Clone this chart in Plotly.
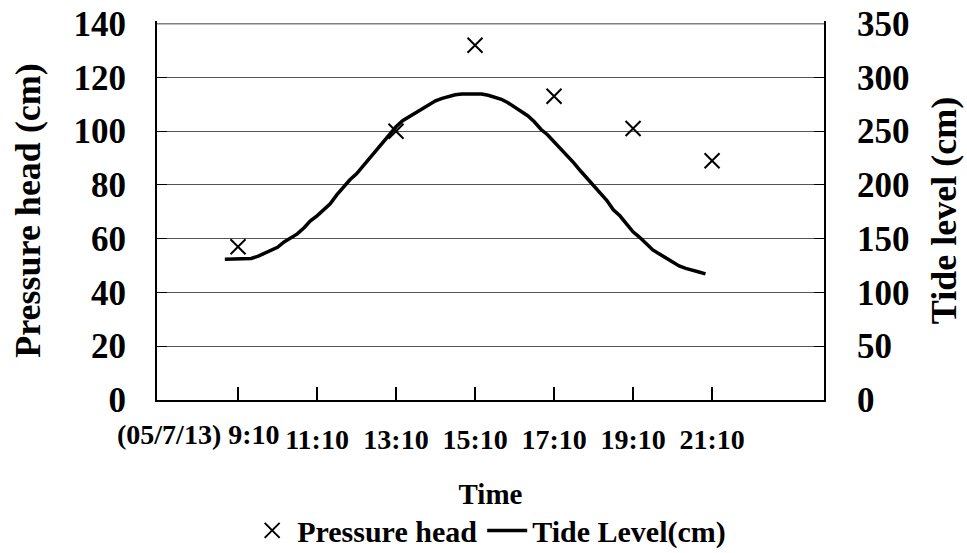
import plotly.graph_objects as go

# ---- data ----
head_times = ["9:10", "13:10", "15:10", "17:10", "19:10", "21:10"]
head_values = [57, 100, 132, 113, 101, 89]

tide_times = [
    "8:50", "9:00", "9:10", "9:20", "9:30", "9:40", "9:50",
    "10:00", "10:10", "10:20", "10:30", "10:40", "10:50",
    "11:00", "11:10", "11:20", "11:30", "11:40", "11:50",
    "12:00", "12:10", "12:20", "12:30", "12:40", "12:50",
    "13:00", "13:10", "13:20", "13:30", "13:40", "13:50",
    "14:00", "14:10", "14:20", "14:30", "14:40", "14:50",
    "15:00", "15:10", "15:20", "15:30", "15:40", "15:50",
    "16:00", "16:10", "16:20", "16:30", "16:40", "16:50",
    "17:00", "17:10", "17:20", "17:30", "17:40", "17:50",
    "18:00", "18:10", "18:20", "18:30", "18:40", "18:50",
    "19:00", "19:10", "19:20", "19:30", "19:40", "19:50",
    "20:00", "20:10", "20:20", "20:30", "20:40", "20:50",
    "21:00",
]
tide_values = [
    131, 131, 131, 131, 131.7, 133.6, 136.4,
    139.6, 142, 147, 150.8, 154.5, 160,
    166.6, 171.3, 176.9, 182.4, 190.8, 198.3,
    204.8, 210.4, 217.8, 225.3, 231.8, 240.2,
    247.6, 254.1, 259.7, 263.4, 267.1, 271.3,
    275.1, 278.3, 280.5, 282.5, 283.9, 284.6,
    284.6, 284.6, 284.6, 283.4, 281.6, 279.7,
    276.5, 272.7, 269, 264.4, 258.8, 251.8,
    246.7, 240.2, 234.6, 227.1, 220.6, 213.2,
    206.6, 200.1, 192.7, 185.7, 176.9, 171.3,
    163.8, 156.4, 151.3, 145.7, 139.6, 135.9,
    132.2, 128.9, 124.7, 122.4, 121, 119.1,
    117.3,
]

tick_times = ["9:10", "11:10", "13:10", "15:10", "17:10", "19:10", "21:10"]
tick_labels = ["", "11:10", "13:10", "15:10", "17:10", "19:10", "21:10"]
first_label = "(05/7/13) 9:10"

Y_MAX = 140
Y2_MAX = 350


def to_h(s):
    h, m = s.split(":")
    return int(h) + int(m) / 60.0


FONT = "Liberation Serif, Times New Roman, serif"

fig = go.Figure()
fig.add_trace(go.Scatter(
    x=[to_h(t) for t in head_times], y=head_values, name="Pressure head",
    mode="markers",
    marker=dict(symbol="x-thin", size=15, color="black",
                line=dict(width=2, color="black")),
    yaxis="y",
))
fig.add_trace(go.Scatter(
    x=[to_h(t) for t in tide_times], y=tide_values, name="Tide Level(cm)",
    mode="lines", line=dict(color="black", width=3.5),
    yaxis="y2",
))

tick_font = dict(family=FONT, size=35, color="black", weight="bold")
title_font = dict(family=FONT, size=36, color="black", weight="bold")

# tiny headroom so that the top grid line (at Y_MAX) is drawn inside the plot
pad = 1.0 / Y_MAX

fig.update_layout(
    width=967, height=553,
    margin=dict(l=157, r=143, t=21, b=153, autoexpand=False),
    paper_bgcolor="white", plot_bgcolor="white",
    font=dict(family=FONT, color="black", weight="bold"),
    showlegend=True,
    legend=dict(orientation="h", x=0.498, xanchor="center", y=-0.344, yanchor="middle",
                font=dict(family=FONT, size=30, color="black", weight="bold"),
                bgcolor="rgba(0,0,0,0)", itemwidth=40, tracegroupgap=0),
    xaxis=dict(
        range=[7.116, 24.0], tickmode="array",
        tickvals=[to_h(t) for t in tick_times], ticktext=tick_labels,
        ticks="inside", ticklen=13, tickwidth=1.5, tickcolor="black",
        showline=True, linecolor="black", linewidth=2,
        showgrid=False, zeroline=False,
        tickfont=dict(family=FONT, size=28, color="black", weight="bold"),
        ticklabelstandoff=13,
        title=dict(text="Time", standoff=30,
                   font=dict(family=FONT, size=29, color="black", weight="bold")),
        automargin=False,
    ),
    yaxis=dict(
        range=[0, Y_MAX * (1 + pad)], dtick=20, tick0=0,
        ticks="inside", ticklen=10, tickcolor="black",
        showline=True, linecolor="black", linewidth=2,
        showgrid=True, gridcolor="#555555", gridwidth=1,
        zeroline=False, ticklabeloverflow="allow",
        tickfont=tick_font, ticklabelstandoff=22,
        title=dict(text="Pressure head (cm)", standoff=22, font=title_font),
        automargin=False,
    ),
    yaxis2=dict(
        range=[0, Y2_MAX * (1 + pad)], dtick=50, tick0=0, overlaying="y", side="right",
        ticks="inside", ticklen=10, tickcolor="black",
        showline=True, linecolor="black", linewidth=2,
        showgrid=False, zeroline=False, ticklabeloverflow="allow",
        tickfont=tick_font, ticklabelstandoff=24,
        title=dict(text="Tide level (cm)", standoff=22, font=title_font),
        automargin=False,
    ),
)

# reinforce the top grid line at the axis maximum
fig.add_shape(type="line", xref="paper", x0=0, x1=1, yref="y", y0=Y_MAX, y1=Y_MAX,
              line=dict(color="#808080", width=1.5), layer="above")

fig.add_annotation(
    x=to_h(tick_times[0]) - 1.0, xref="x", y=-0.045, yref="paper",
    yanchor="top", xanchor="center", showarrow=False,
    text=first_label,
    font=dict(family=FONT, size=28, color="black", weight="bold"),
)

fig.write_html("out.html", config={"displayModeBar": False},
               post_script="document.body.style.margin='0';")
